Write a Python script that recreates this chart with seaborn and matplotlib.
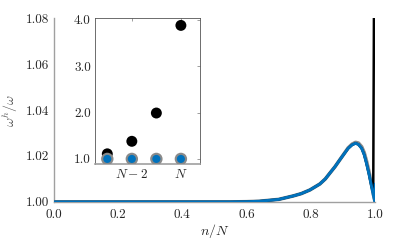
import matplotlib
matplotlib.use("Agg")
import matplotlib.pyplot as plt
import seaborn as sns
import pandas as pd

# ---- data ----
x_main = [0.0, 0.2, 0.4, 0.55, 0.60, 0.64, 0.70, 0.745, 0.77, 0.797, 0.828, 0.845, 0.859,
          0.875, 0.890, 0.905, 0.916, 0.928, 0.939, 0.948, 0.958, 0.966, 0.973, 0.981,
          0.989, 0.995, 0.999, 1.0]
blue_vals = [1.0, 1.0, 1.0, 1.0, 1.0001, 1.0003, 1.0011, 1.0026, 1.0036, 1.0052, 1.0078,
             1.0100, 1.0125, 1.0153, 1.0183, 1.0212, 1.0233, 1.0248, 1.0255, 1.0250, 1.0233,
             1.0205, 1.0168, 1.0120, 1.0066, 1.0025, 1.0003, 1.0078]
gray_vals = [1.0, 1.0, 1.0, 1.0, 1.0001, 1.0003, 1.0011, 1.0026, 1.0036, 1.0052, 1.0078,
             1.0100, 1.0125, 1.0153, 1.0183, 1.0213, 1.0235, 1.0251, 1.0259, 1.0256, 1.0240,
             1.0214, 1.0178, 1.0130, 1.0074, 1.0030, 1.0005, 1.0]
black_x = [0.0, 0.2, 0.4, 0.55, 0.60, 0.64, 0.70, 0.745, 0.77, 0.797, 0.828, 0.845, 0.859,
           0.875, 0.890, 0.905, 0.916, 0.928, 0.939, 0.948, 0.958, 0.966, 0.973, 0.981,
           0.989, 0.994, 0.997, 0.998, 0.999, 1.0]
black_vals = [1.0, 1.0, 1.0, 1.0, 1.0001, 1.0003, 1.0011, 1.0026, 1.0036, 1.0052, 1.0078,
              1.0100, 1.0125, 1.0153, 1.0183, 1.0212, 1.0233, 1.0248, 1.0255, 1.0250, 1.0233,
              1.0205, 1.0168, 1.0120, 1.0066, 1.0040, 1.11, 1.38, 1.99, 3.88]

inset_x = [-3, -2, -1, 0]              # N-3, N-2, N-1, N
inset_black = [1.11, 1.38, 1.99, 3.88]
inset_gray = [1.0, 1.0, 1.0, 1.0]
inset_blue = [1.0, 1.0, 1.0, 1.0]
inset_xticks = [-2, 0]
inset_xticklabels = [r"$N-2$", r"$N$"]
inset_yticks = [1.0, 2.0, 3.0, 4.0]

main_xticks = [0.0, 0.2, 0.4, 0.6, 0.8, 1.0]
main_yticks = [1.00, 1.02, 1.04, 1.06, 1.08]

BLUE = "#0072BD"
GRAY = "#8a8a8a"
TXT = "#262626"

sns.set_style("white")
plt.rcParams["font.family"] = ["cmr10", "DejaVu Serif"]
plt.rcParams["mathtext.fontset"] = "cm"
plt.rcParams["axes.formatter.use_mathtext"] = True

fig = plt.figure(figsize=(4.15, 2.43), dpi=100)
ax = fig.add_axes([0.129, 0.169, 0.775, 0.757])

sns.lineplot(x=x_main, y=gray_vals, ax=ax, color=GRAY, lw=2.6, sort=False, zorder=2)
sns.lineplot(x=black_x, y=black_vals, ax=ax, color="black", lw=1.8, sort=False, zorder=3)
sns.lineplot(x=x_main, y=blue_vals, ax=ax, color=BLUE, lw=2.1, sort=False, zorder=4)

ax.set_xlim(0, 1)
ax.set_ylim(1.0, 1.08)
ax.set_xticks(main_xticks)
ax.set_xticklabels([f"{v:.1f}" for v in main_xticks])
ax.set_yticks(main_yticks)
ax.set_yticklabels([f"{v:.2f}" for v in main_yticks])
for s in ["top", "right"]:
    ax.spines[s].set_visible(False)
for s in ["left", "bottom"]:
    ax.spines[s].set_color("#a0a0a0")
    ax.spines[s].set_linewidth(1.0)
ax.tick_params(direction="in", length=3, width=0.6, color="#555555",
               labelsize=9.5, labelcolor=TXT)
ax.tick_params(axis="x", pad=5)
ax.tick_params(axis="y", pad=3)
ax.set_xlabel(r"$n/N$", fontsize=10, color=TXT, labelpad=1)
ax.set_ylabel(r"$\omega^h/\omega$", fontsize=10, color="#555555", labelpad=4)

# ---- inset ----
ins = fig.add_axes([0.229, 0.325, 0.253, 0.601])
sns.scatterplot(x=inset_x, y=inset_black, ax=ins, color="black", s=62,
                edgecolor="none", zorder=3)
sns.scatterplot(x=inset_x, y=inset_gray, ax=ins, color=GRAY, s=80,
                edgecolor="none", zorder=4)
sns.scatterplot(x=inset_x, y=inset_blue, ax=ins, color=BLUE, s=34,
                edgecolor="none", zorder=5)
ins.set_xlim(-3.5, 0.78)
ins.set_ylim(0.89, 4.04)
ins.set_xticks(inset_xticks)
ins.set_xticklabels(inset_xticklabels)
ins.set_yticks(inset_yticks)
ins.set_yticklabels([f"{v:.1f}" for v in inset_yticks])
for s in ["top", "right", "left"]:
    ins.spines[s].set_color("#555555")
    ins.spines[s].set_linewidth(0.6)
ins.spines["bottom"].set_color("#a0a0a0")
ins.spines["bottom"].set_linewidth(1.2)
ins.tick_params(direction="in", length=2, width=0.5, color="#777777",
                labelsize=9.5, labelcolor=TXT, pad=3, right=True, top=True)

fig.savefig("out.png", dpi=100)
